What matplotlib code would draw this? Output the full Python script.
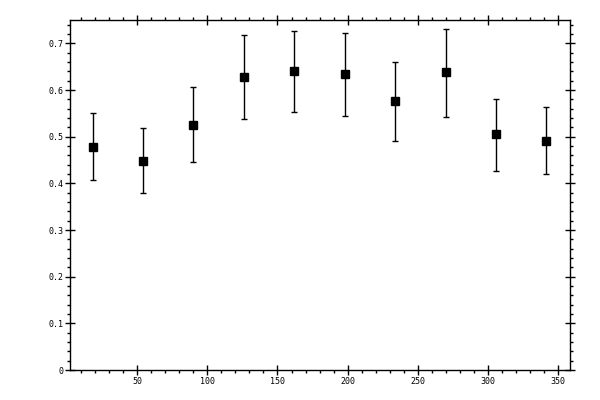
import matplotlib
matplotlib.use('Agg')
import matplotlib.pyplot as plt
from matplotlib.ticker import MultipleLocator, FormatStrFormatter

winkel = [18, 54, 90, 126, 162, 198, 234, 270, 306, 342]
werte = [0.479, 0.449, 0.526, 0.629, 0.640, 0.634, 0.576, 0.638, 0.505, 0.490]
fehler_unten = [0.071, 0.069, 0.080, 0.090, 0.088, 0.089, 0.086, 0.095, 0.078, 0.070]
fehler_oben = [0.072, 0.069, 0.080, 0.090, 0.086, 0.089, 0.085, 0.093, 0.075, 0.073]

fig = plt.figure(figsize=(6, 4), dpi=100)
ax = fig.add_axes([0.116, 0.075, 0.834, 0.876])

ax.errorbar(winkel, werte, yerr=[fehler_unten, fehler_oben], fmt='s',
            color='black', ms=5.5, elinewidth=1, capsize=2.2, capthick=1)

ax.set_xlim(1.6, 358.8)
ax.set_ylim(0, 0.751)

ax.xaxis.set_major_locator(MultipleLocator(50))
ax.xaxis.set_minor_locator(MultipleLocator(10))
ax.yaxis.set_major_locator(MultipleLocator(0.1))
ax.yaxis.set_minor_locator(MultipleLocator(0.02))


def yfmt(v, pos):
    if abs(v) < 1e-9:
        return '0'
    return '%.1f' % v


ax.yaxis.set_major_formatter(plt.FuncFormatter(yfmt))
ax.xaxis.set_major_formatter(FormatStrFormatter('%d'))

for s in ax.spines.values():
    s.set_linewidth(1)

ax.tick_params(which='major', direction='inout', length=6.5, width=1,
               top=True, right=True, labelsize=6, pad=1.5)
ax.tick_params(which='minor', direction='out', length=2.3, width=1,
               top=True, right=True)
for lab in ax.get_xticklabels() + ax.get_yticklabels():
    lab.set_family('DejaVu Sans Mono')

fig.savefig('out.png', dpi=100)
